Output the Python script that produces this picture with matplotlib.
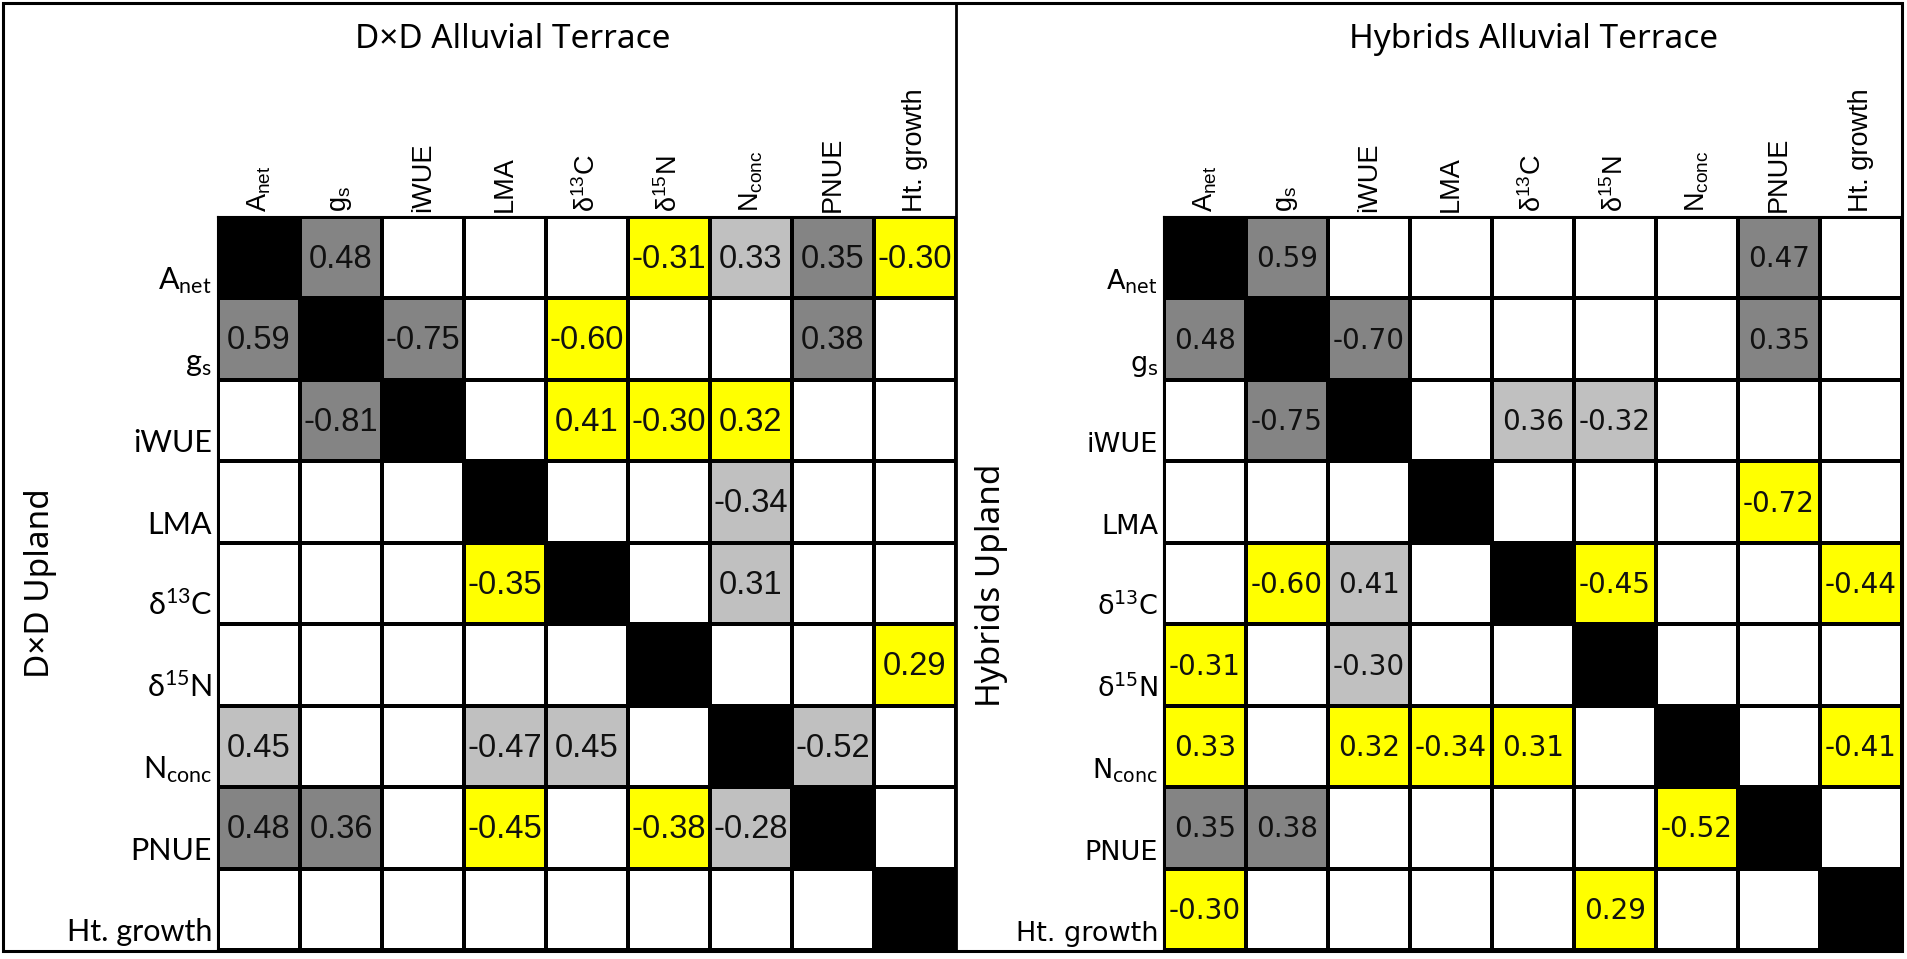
import matplotlib
matplotlib.use('Agg')
import matplotlib.pyplot as plt
from matplotlib.colors import ListedColormap
from matplotlib.patches import Rectangle
from matplotlib.lines import Line2D
from matplotlib import font_manager
import numpy as np

plt.rcParams['mathtext.default'] = 'regular'

def pick(*names):
    avail = {f.name for f in font_manager.fontManager.ttflist}
    for n in names:
        if n in avail:
            return n
    return 'DejaVu Sans'

NARROW = pick('Liberation Sans Narrow', 'Liberation Sans')
ARIAL = pick('Liberation Sans')
CALIB = pick('Lato', 'Open Sans')
TITLEF = pick('Noto Sans', 'Open Sans')
VERD = 'DejaVu Sans'

# ---------------- data ----------------
var_labels = [r'A$_{net}$', r'g$_{s}$', 'iWUE', 'LMA', r'δ$^{13}$C', r'δ$^{15}$N',
              r'N$_{conc}$', 'PNUE', 'Ht. growth']

dd_title = 'D×D Alluvial Terrace'
dd_side = 'D×D Upland'
hy_title = 'Hybrids Alluvial Terrace'
hy_side = 'Hybrids Upland'

N = None
dd_vals = [
    [N, 0.48, N, N, N, -0.31, 0.33, 0.35, -0.30],
    [0.59, N, -0.75, N, -0.60, N, N, 0.38, N],
    [N, -0.81, N, N, 0.41, -0.30, 0.32, N, N],
    [N, N, N, N, N, N, -0.34, N, N],
    [N, N, N, -0.35, N, N, 0.31, N, N],
    [N, N, N, N, N, N, N, N, 0.29],
    [0.45, N, N, -0.47, 0.45, N, N, -0.52, N],
    [0.48, 0.36, N, -0.45, N, -0.38, -0.28, N, N],
    [N, N, N, N, N, N, N, N, N],
]
# K = diagonal, D = dark grey, L = light grey, Y = yellow, - = blank
dd_cat = [
    "KD---YLDY",
    "DKD-Y--D-",
    "-DK-YYY--",
    "---K--L--",
    "---YK-L--",
    "-----K--Y",
    "L--LL-KL-",
    "DD-Y-YLK-",
    "--------K",
]

hy_vals = [
    [N, 0.59, N, N, N, N, N, 0.47, N],
    [0.48, N, -0.70, N, N, N, N, 0.35, N],
    [N, -0.75, N, N, 0.36, -0.32, N, N, N],
    [N, N, N, N, N, N, N, -0.72, N],
    [N, -0.60, 0.41, N, N, -0.45, N, N, -0.44],
    [-0.31, N, -0.30, N, N, N, N, N, N],
    [0.33, N, 0.32, -0.34, 0.31, N, N, N, -0.41],
    [0.35, 0.38, N, N, N, N, -0.52, N, N],
    [-0.30, N, N, N, N, 0.29, N, N, N],
]
hy_cat = [
    "KD-----D-",
    "DKD----D-",
    "-DK-LL---",
    "---K---Y-",
    "-YL-KY--Y",
    "Y-L--K---",
    "Y-YYY-K-Y",
    "DD----YK-",
    "Y----Y--K",
]

cat_order = ['-', 'K', 'D', 'L', 'Y']
cat_colors = ['#ffffff', '#000000', '#848484', '#c0c0c0', '#ffff00']

# ---------------- figure ----------------
W, H = 1907, 959
fig = plt.figure(figsize=(W / 100, H / 100), dpi=100)
fig.patch.set_facecolor('white')

def fx(x):
    return x / W

def fy(y):
    return 1 - y / H

cmap = ListedColormap(cat_colors)

def panel(x0, x1, y0, y1, vals, cats, val_font, val_size, row_font, row_size):
    ax = fig.add_axes([fx(x0), fy(y1), (x1 - x0) / W, (y1 - y0) / H])
    n = len(var_labels)
    codes = np.array([[cat_order.index(c) for c in row] for row in cats])
    ax.pcolormesh(np.arange(n + 1), np.arange(n + 1), codes, cmap=cmap,
                  vmin=-0.5, vmax=len(cat_order) - 0.5,
                  edgecolors='black', linewidth=1.5)
    ax.set_xlim(0, n)
    ax.set_ylim(n, 0)
    ax.set_xticks([])
    ax.set_yticks([])
    for s in ax.spines.values():
        s.set_linewidth(1.5)
    for i in range(n):
        for j in range(n):
            v = vals[i][j]
            if v is not None:
                ax.text(j + 0.5, i + 0.52, f'{v:.2f}', ha='center', va='center',
                        fontsize=val_size, family=val_font, color='#111111')
    for j, lab in enumerate(var_labels):
        ax.annotate(lab, xy=(j + 0.5, 0), xytext=(0, 5), textcoords='offset pixels',
                    rotation=90, ha='center', va='bottom', fontsize=19.5,
                    family=ARIAL, annotation_clip=False)
    for i, lab in enumerate(var_labels):
        ax.annotate(lab, xy=(0, i + 1), xytext=(-6, 9), textcoords='offset pixels',
                    ha='right', va='baseline', fontsize=row_size, family=row_font,
                    annotation_clip=False)
    return ax

panel(218, 956, 217, 950, dd_vals, dd_cat, NARROW, 23.5, CALIB, 22)
panel(1164, 1902, 217, 950, hy_vals, hy_cat, VERD, 20, VERD, 19.5)

fig.text(fx(513), fy(48), dd_title, ha='center', va='baseline', fontsize=24, family=TITLEF)
fig.text(fx(1534), fy(48), hy_title, ha='center', va='baseline', fontsize=24, family=TITLEF)
fig.text(fx(41), fy(583), dd_side, rotation=90, ha='center', va='center', fontsize=24, family=TITLEF)
fig.text(fx(991), fy(585), hy_side, rotation=90, ha='center', va='center', fontsize=24, family=TITLEF)

# outer frame and divider
fig.patches.append(Rectangle((fx(3), fy(951)), (1902 - 3) / W, (951 - 3) / H,
                             transform=fig.transFigure, fill=False, edgecolor='black',
                             linewidth=2.2))
fig.lines.append(Line2D([fx(956), fx(956)], [fy(3), fy(951)], transform=fig.transFigure,
                        color='black', linewidth=2.0))

fig.savefig('out.png', dpi=100, facecolor='white')
